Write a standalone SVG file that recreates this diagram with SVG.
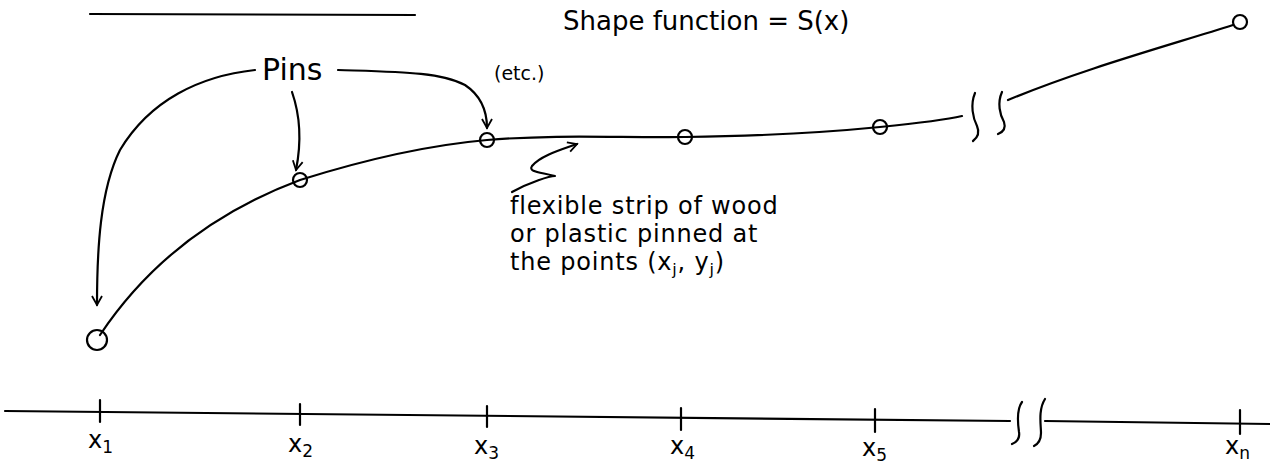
<svg xmlns="http://www.w3.org/2000/svg" width="1270" height="468" viewBox="0 0 1270 468">
<style>
.ln{fill:none;stroke:#000;stroke-width:2.2;stroke-linecap:round;stroke-linejoin:round}
.pin{fill:none;stroke:#000;stroke-width:2.2}
.t{font-family:"DejaVu Sans","Liberation Sans",sans-serif;fill:#000;font-weight:normal}
.st{font-size:24px;letter-spacing:0.8px}
.ax{font-size:24px}
</style>
<defs>
<marker id="ah" viewBox="0 0 12 12" refX="10" refY="6" markerWidth="12" markerHeight="12" markerUnits="userSpaceOnUse" orient="auto">
<path d="M1,1 L10,6 L1,11" fill="none" stroke="#000" stroke-width="1.8"/>
</marker>
</defs>
<rect width="1270" height="468" fill="#fff"/>
<g id="title">
<line x1="90" y1="14" x2="415" y2="15" class="ln"/>
</g>
<g id="shape-label">
<text x="563" y="30" class="t" font-size="26">Shape function = S(x)</text>
</g>
<g id="curve">
<path class="ln" d="M100,335 C150,260 220,210 300,180 C370,158 430,145 487,140 C560,134 620,138 685,137 C760,136 830,132 880,127 C920,123 945,120 962,116"/>
<path class="ln" d="M975,93 C970,105 973,118 977,126 C980,133 977,138 973,141"/>
<path class="ln" d="M1002,92 C997,103 1000,115 1004,122 C1006,128 1003,132 998,134"/>
<path class="ln" d="M1008,100 C1080,70 1160,48 1233,25"/>
</g>
<g id="pins">
<circle id="pin1" cx="97" cy="340" r="10" class="pin"/>
<circle id="pin2" cx="300" cy="180" r="7" class="pin"/>
<circle id="pin3" cx="487" cy="140" r="7" class="pin"/>
<circle id="pin4" cx="685" cy="137" r="7" class="pin"/>
<circle id="pin5" cx="880" cy="127" r="7" class="pin"/>
<circle id="pin-n" cx="1240" cy="22" r="7" class="pin"/>
</g>
<g id="pins-label">
<text x="262" y="80" class="t" font-size="30">Pins</text>
<text x="494" y="80" class="t" font-size="19">(etc.)</text>
</g>
<g id="connectors">
<path class="ln" marker-end="url(#ah)" d="M255,70 C200,76 150,100 120,150 C100,190 97,250 97,305"/>
<path class="ln" marker-end="url(#ah)" d="M292,92 C300,115 302,140 296,170"/>
<path class="ln" marker-end="url(#ah)" d="M338,70 C400,72 440,72 465,85 C480,95 487,110 487,128"/>
<path class="ln" marker-end="url(#ah)" d="M512,192 C530,182 550,176 555,176 C540,172 528,172 532,166 C540,156 560,150 577,144"/>
</g>
<g id="strip-label">
<text x="510" y="214" class="t st">flexible  strip  of  wood</text>
<text x="510" y="242" class="t st">or  plastic  pinned  at</text>
<text x="510" y="270" class="t st">the  points  (x<tspan font-size="16" dy="5">j</tspan><tspan dy="-5">, y</tspan><tspan font-size="16" dy="5">j</tspan><tspan dy="-5">)</tspan></text>
</g>
<g id="axis">
<path class="ln" d="M5,411 L1010,421"/>
<path class="ln" d="M1045,421 L1270,424"/>
<path class="ln" stroke-width="3" d="M1022,402 C1016,410 1018,425 1019,432 C1020,438 1017,442 1012,444"/>
<path class="ln" stroke-width="3" d="M1045,399 C1038,410 1041,425 1041,433 C1041,440 1038,444 1034,446"/>
<g id="ticks">
<line x1="100" y1="400" x2="100" y2="422" class="ln"/>
<line x1="300" y1="404" x2="300" y2="425" class="ln"/>
<line x1="487" y1="406" x2="487" y2="427" class="ln"/>
<line x1="681" y1="408" x2="681" y2="430" class="ln"/>
<line x1="875" y1="409" x2="875" y2="432" class="ln"/>
<line x1="1240" y1="410" x2="1240" y2="434" class="ln"/>
</g>
<g id="tick-labels">
<text x="88" y="448" class="t ax">x<tspan font-size="17" dy="5">1</tspan></text>
<text x="288" y="452" class="t ax">x<tspan font-size="17" dy="5">2</tspan></text>
<text x="474" y="454" class="t ax">x<tspan font-size="17" dy="5">3</tspan></text>
<text x="670" y="454" class="t ax">x<tspan font-size="17" dy="5">4</tspan></text>
<text x="862" y="456" class="t ax">x<tspan font-size="17" dy="5">5</tspan></text>
<text x="1225" y="454" class="t ax">x<tspan font-size="17" dy="5">n</tspan></text>
</g>
</g>
</svg>
